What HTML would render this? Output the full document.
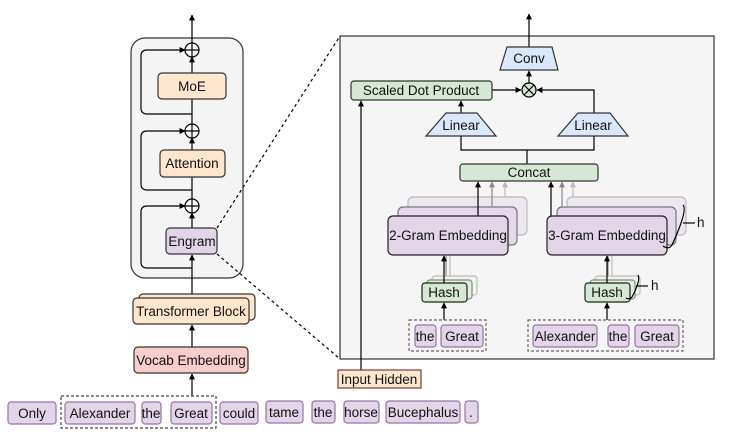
<!DOCTYPE html>
<html><head><meta charset="utf-8"><style>
html,body{margin:0;padding:0;background:#fff;}
svg{display:block;font-family:"Liberation Sans",Arial,sans-serif;}
</style></head><body>
<svg width="735" height="439" viewBox="0 0 735 439" xmlns="http://www.w3.org/2000/svg">
<defs>
<marker id="a" viewBox="0 0 10 10" refX="9" refY="5" markerWidth="5" markerHeight="5" orient="auto"><path d="M0,0L10,5L0,10z" fill="#000"/></marker>
<marker id="ag" viewBox="0 0 10 10" refX="9" refY="5" markerWidth="5" markerHeight="5" orient="auto"><path d="M0,0L10,5L0,10z" fill="#888"/></marker>
<marker id="al" viewBox="0 0 10 10" refX="9" refY="5" markerWidth="5" markerHeight="5" orient="auto"><path d="M0,0L10,5L0,10z" fill="#bbb"/></marker>
</defs>
<g stroke="#000" stroke-width="1.2" fill="none">
<rect x="131" y="38" width="112" height="240" rx="14" fill="#f4f4f4" stroke="#333"/>
<line x1="192" y1="44" x2="192" y2="15" marker-end="url(#a)"/>
<path d="M192,114 H147 Q141,114 141,108 V56 Q141,50 147,50 H185" marker-end="url(#a)"/>
<path d="M192,190 H147 Q141,190 141,184 V137 Q141,131 147,131 H185" marker-end="url(#a)"/>
<path d="M192,268 H147 Q141,268 141,262 V212 Q141,206 147,206 H185" marker-end="url(#a)"/>
<line x1="192" y1="73" x2="192" y2="57" marker-end="url(#a)"/>
<line x1="192" y1="125" x2="192" y2="99" />
<line x1="192" y1="150" x2="192" y2="138" marker-end="url(#a)"/>
<line x1="192" y1="200" x2="192" y2="177"/>
<line x1="192" y1="228" x2="192" y2="213" marker-end="url(#a)"/>
<line x1="192" y1="298" x2="192" y2="255" marker-end="url(#a)"/>
<line x1="192" y1="347" x2="192" y2="325" marker-end="url(#a)"/>
<line x1="192" y1="396" x2="192" y2="374" marker-end="url(#a)"/>
<circle cx="192" cy="50" r="7" fill="#fff"/><path d="M185,50H199M192,43V57"/>
<circle cx="192" cy="131" r="7" fill="#fff"/><path d="M185,131H199M192,124V138"/>
<circle cx="192" cy="206" r="7" fill="#fff"/><path d="M185,206H199M192,199V213"/>
<rect x="158" y="73" width="68" height="26" rx="4" fill="#ffe6cc" stroke="#333"/>
<rect x="160" y="150" width="65" height="27" rx="4" fill="#ffe6cc" stroke="#333"/>
<rect x="166" y="228" width="51" height="26" rx="4" fill="#e1d5e7" stroke="#333"/>
<rect x="139" y="294" width="116" height="26" rx="4" fill="#ffe6cc" stroke="#333"/>
<rect x="133" y="298" width="116" height="26" rx="4" fill="#ffe6cc" stroke="#333"/>
<rect x="134" y="347" width="114" height="26" rx="4" fill="#f8cecc" stroke="#333"/>
<line x1="217" y1="228" x2="340" y2="36" stroke-dasharray="3,3"/>
<line x1="217" y1="254" x2="340" y2="359" stroke-dasharray="3,3"/>
<rect x="340" y="36" width="374" height="323" fill="#f5f5f5" stroke="#333"/>
<line x1="529" y1="47" x2="529" y2="14" marker-end="url(#a)"/>
<line x1="529" y1="83" x2="529" y2="71" marker-end="url(#a)"/>
<path d="M507,47H552L558,70H500Z" fill="#dae8fc" stroke="#333"/>
<circle cx="529" cy="90" r="7" fill="#d5e8d4"/><path d="M524,85L534,95M534,85L524,95"/>
<line x1="492" y1="90" x2="521" y2="90" marker-end="url(#a)"/>
<path d="M594,113V90H537" marker-end="url(#a)"/>
<line x1="461" y1="113" x2="461" y2="101" marker-end="url(#a)"/>
<line x1="361" y1="370" x2="361" y2="101" marker-end="url(#a)"/>
<rect x="351" y="81" width="141" height="19" rx="3" fill="#d5e8d4" stroke="#333"/>
<path d="M446,113H477L496,136H426Z" fill="#dae8fc" stroke="#333"/>
<path d="M578,113H610L628,136H558Z" fill="#dae8fc" stroke="#333"/>
<path d="M461,136V150H594V136M527,150V164"/>
<rect x="460" y="164" width="138" height="17" rx="3" fill="#d5e8d4" stroke="#333"/>
<rect x="408" y="197" width="119" height="38" rx="5" fill="#ece6ef" stroke="#bbb"/>
<rect x="398" y="207" width="119" height="38" rx="5" fill="#e4d9ea" stroke="#777"/>
<line x1="505" y1="197" x2="505" y2="182" stroke="#bbb" marker-end="url(#al)"/>
<line x1="492" y1="207" x2="492" y2="182" stroke="#888" marker-end="url(#ag)"/>
<line x1="478" y1="217" x2="478" y2="182" marker-end="url(#a)"/>
<rect x="388" y="216" width="120" height="39" rx="5" fill="#e1d5e7" stroke="#222"/>
<rect x="567" y="197" width="119" height="38" rx="5" fill="#ece6ef" stroke="#bbb"/>
<rect x="557" y="207" width="119" height="38" rx="5" fill="#e4d9ea" stroke="#777"/>
<line x1="573" y1="197" x2="573" y2="182" stroke="#bbb" marker-end="url(#al)"/>
<line x1="562" y1="207" x2="562" y2="182" stroke="#888" marker-end="url(#ag)"/>
<line x1="551" y1="217" x2="551" y2="182" marker-end="url(#a)"/>
<rect x="547" y="216" width="120" height="39" rx="5" fill="#e1d5e7" stroke="#222"/>
<path d="M683,205 Q688,210 672,245 Q669,250 663,246"/>
<line x1="683" y1="223" x2="695" y2="223"/>
<line x1="450" y1="281" x2="450" y2="256" stroke="#bbb"/>
<line x1="446" y1="283" x2="446" y2="256" stroke="#888"/>
<rect x="432" y="276" width="45" height="19" rx="3" fill="#eef5ec" stroke="#bbb"/>
<rect x="427" y="280" width="45" height="19" rx="3" fill="#e2eedf" stroke="#888"/>
<rect x="422" y="283" width="45" height="19" rx="3" fill="#d5e8d4" stroke="#222"/>
<line x1="444" y1="283" x2="444" y2="256" marker-end="url(#a)"/>
<line x1="612" y1="281" x2="612" y2="256" stroke="#bbb"/>
<line x1="608" y1="283" x2="608" y2="256" stroke="#888"/>
<rect x="595" y="276" width="45" height="19" rx="3" fill="#eef5ec" stroke="#bbb"/>
<rect x="590" y="280" width="45" height="19" rx="3" fill="#e2eedf" stroke="#888"/>
<rect x="585" y="283" width="45" height="19" rx="3" fill="#d5e8d4" stroke="#222"/>
<line x1="607" y1="283" x2="607" y2="256" marker-end="url(#a)"/>
<path d="M638,275 Q641,280 632,297 Q629,300 626,298"/>
<line x1="636" y1="286" x2="648" y2="286"/>
<line x1="444" y1="320" x2="444" y2="303" marker-end="url(#a)"/>
<line x1="607" y1="320" x2="607" y2="303" marker-end="url(#a)"/>
<rect x="409" y="320" width="77" height="31" stroke="#666" stroke-dasharray="3,2"/>
<rect x="528" y="320" width="155" height="31" stroke="#666" stroke-dasharray="3,2"/>
<rect x="61" y="396" width="155" height="32" stroke="#444" stroke-dasharray="3,2"/>
<g fill="#e1d5e7" stroke="#9673a6">
<rect x="415" y="325" width="21" height="22" rx="3"/><rect x="441" y="325" width="42" height="22" rx="3"/>
<rect x="533" y="325" width="64" height="22" rx="3"/><rect x="608" y="325" width="21" height="22" rx="3"/><rect x="635" y="325" width="44" height="22" rx="3"/>
<rect x="8" y="402" width="48" height="22" rx="3"/><rect x="65" y="402" width="70" height="22" rx="3"/>
<rect x="142" y="402" width="19" height="22" rx="3"/><rect x="171" y="402" width="41" height="22" rx="3"/>
<rect x="220" y="402" width="38" height="22" rx="3"/><rect x="266" y="401" width="37" height="22" rx="3"/>
<rect x="312" y="401" width="23" height="22" rx="3"/><rect x="344" y="401" width="35" height="22" rx="3"/>
<rect x="386" y="401" width="74" height="22" rx="3"/><rect x="465" y="401" width="13" height="22" rx="3"/>
</g>
<rect x="338" y="370" width="83" height="18" fill="#ffe6cc" stroke="#7a3a3a"/>
</g>
<g font-size="13.5" fill="#111" text-anchor="middle">
<text x="192" y="91">MoE</text>
<text x="192" y="168">Attention</text>
<text x="192" y="246">Engram</text>
<text x="191" y="316">Transformer Block</text>
<text x="191" y="365">Vocab Embedding</text>
<text x="529" y="63">Conv</text>
<text x="421" y="95">Scaled Dot Product</text>
<text x="461" y="130">Linear</text>
<text x="593" y="130">Linear</text>
<text x="529" y="177">Concat</text>
<text x="448" y="240">2-Gram Embedding</text>
<text x="607" y="240">3-Gram Embedding</text>
<text x="444" y="297">Hash</text>
<text x="607" y="297">Hash</text>
<text x="425" y="341">the</text><text x="462" y="341">Great</text>
<text x="565" y="341">Alexander</text><text x="618" y="341">the</text><text x="657" y="341">Great</text>
<text x="379" y="384">Input Hidden</text>
<text x="32" y="418">Only</text><text x="100" y="418">Alexander</text><text x="151" y="418">the</text><text x="191" y="418">Great</text>
<text x="239" y="418">could</text><text x="284" y="417">tame</text><text x="323" y="417">the</text><text x="361" y="417">horse</text>
<text x="423" y="417">Bucephalus</text><text x="471" y="417">.</text>
<text x="697" y="227" text-anchor="start">h</text>
<text x="651" y="290" text-anchor="start">h</text>
</g>
</svg>
</body></html>
